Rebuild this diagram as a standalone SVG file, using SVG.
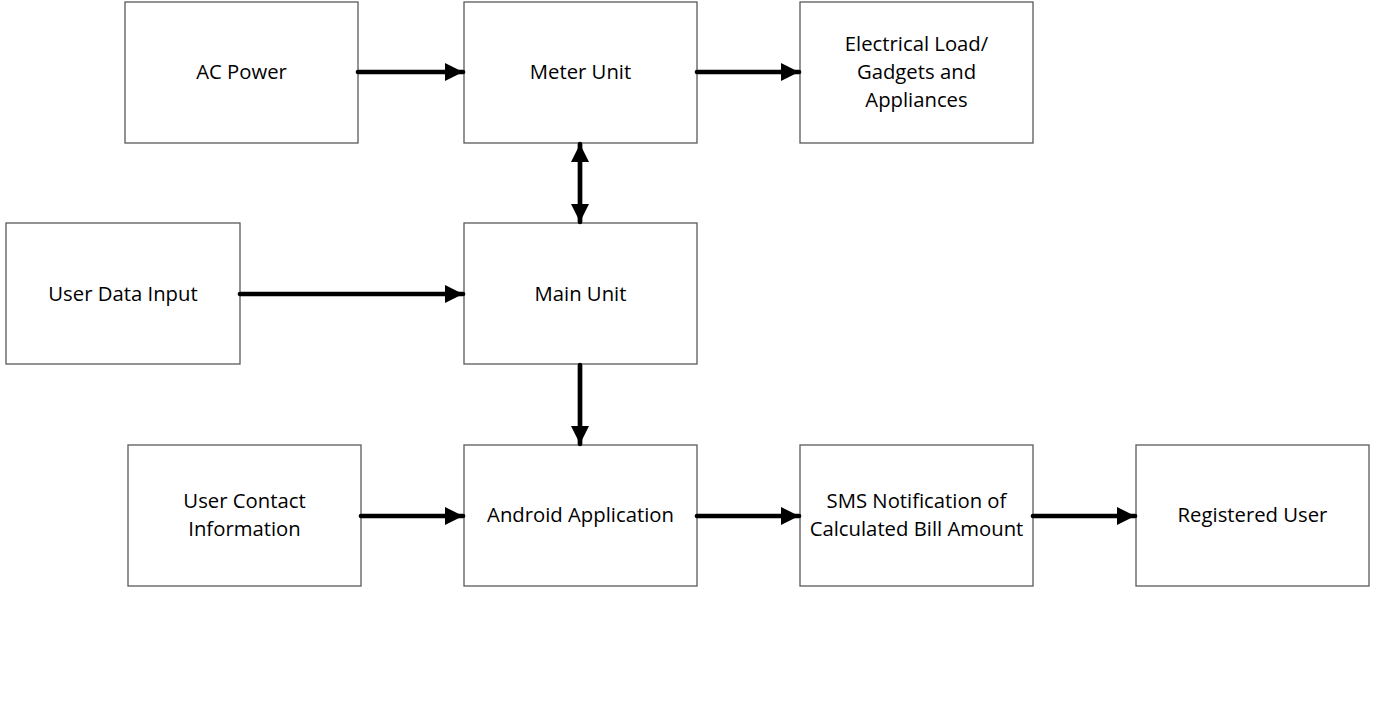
<svg xmlns="http://www.w3.org/2000/svg" width="1380" height="713" viewBox="0 0 1380 713">
<style>
.box{fill:#fff;stroke:#595959;stroke-width:1.3}
.t{font-family:"Open Sans","Noto Sans",sans-serif;font-size:20.3px;fill:#000;text-anchor:middle;dominant-baseline:central}
.c{stroke:#000;stroke-width:4.7;fill:none;stroke-linecap:round}
</style>
<defs>
<marker id="ah" markerUnits="userSpaceOnUse" markerWidth="20" markerHeight="18" refX="18" refY="9" orient="auto-start-reverse">
<path d="M0,0 L18,9 L0,18 z" fill="#000"/>
</marker>
</defs>
<rect width="1380" height="713" fill="#fff"/>
<g id="ac-power"><rect class="box" x="125" y="2" width="233" height="141"/><text class="t" x="241.5" y="71">AC Power</text></g>
<g id="meter-unit"><rect class="box" x="464" y="2" width="233" height="141"/><text class="t" x="580.5" y="71">Meter Unit</text></g>
<g id="electrical-load"><rect class="box" x="800" y="2" width="233" height="141"/><text class="t" x="916.5" y="43">Electrical Load/</text><text class="t" x="916.5" y="71">Gadgets and</text><text class="t" x="916.5" y="99">Appliances</text></g>
<g id="user-data-input"><rect class="box" x="6" y="223" width="234" height="141"/><text class="t" x="123" y="293">User Data Input</text></g>
<g id="main-unit"><rect class="box" x="464" y="223" width="233" height="141"/><text class="t" x="580.5" y="293">Main Unit</text></g>
<g id="user-contact"><rect class="box" x="128" y="445" width="233" height="141"/><text class="t" x="244.5" y="500">User Contact</text><text class="t" x="244.5" y="528">Information</text></g>
<g id="android-app"><rect class="box" x="464" y="445" width="233" height="141"/><text class="t" x="580.5" y="514">Android Application</text></g>
<g id="sms-notification"><rect class="box" x="800" y="445" width="233" height="141"/><text class="t" x="916.5" y="500">SMS Notification of</text><text class="t" x="916.5" y="528">Calculated Bill Amount</text></g>
<g id="registered-user"><rect class="box" x="1136" y="445" width="233" height="141"/><text class="t" x="1252.5" y="514">Registered User</text></g>
<g id="connectors">
<line class="c" x1="358" y1="72" x2="463" y2="72" marker-end="url(#ah)"/>
<line class="c" x1="697" y1="72" x2="799" y2="72" marker-end="url(#ah)"/>
<line class="c" x1="580" y1="144" x2="580" y2="222" marker-start="url(#ah)" marker-end="url(#ah)" stroke-linecap="butt"/>
<line class="c" x1="240" y1="294" x2="463" y2="294" marker-end="url(#ah)"/>
<line class="c" x1="580" y1="365" x2="580" y2="444" marker-end="url(#ah)"/>
<line class="c" x1="361" y1="516" x2="463" y2="516" marker-end="url(#ah)"/>
<line class="c" x1="697" y1="516" x2="799" y2="516" marker-end="url(#ah)"/>
<line class="c" x1="1033" y1="516" x2="1135" y2="516" marker-end="url(#ah)"/>
</g>
</svg>
